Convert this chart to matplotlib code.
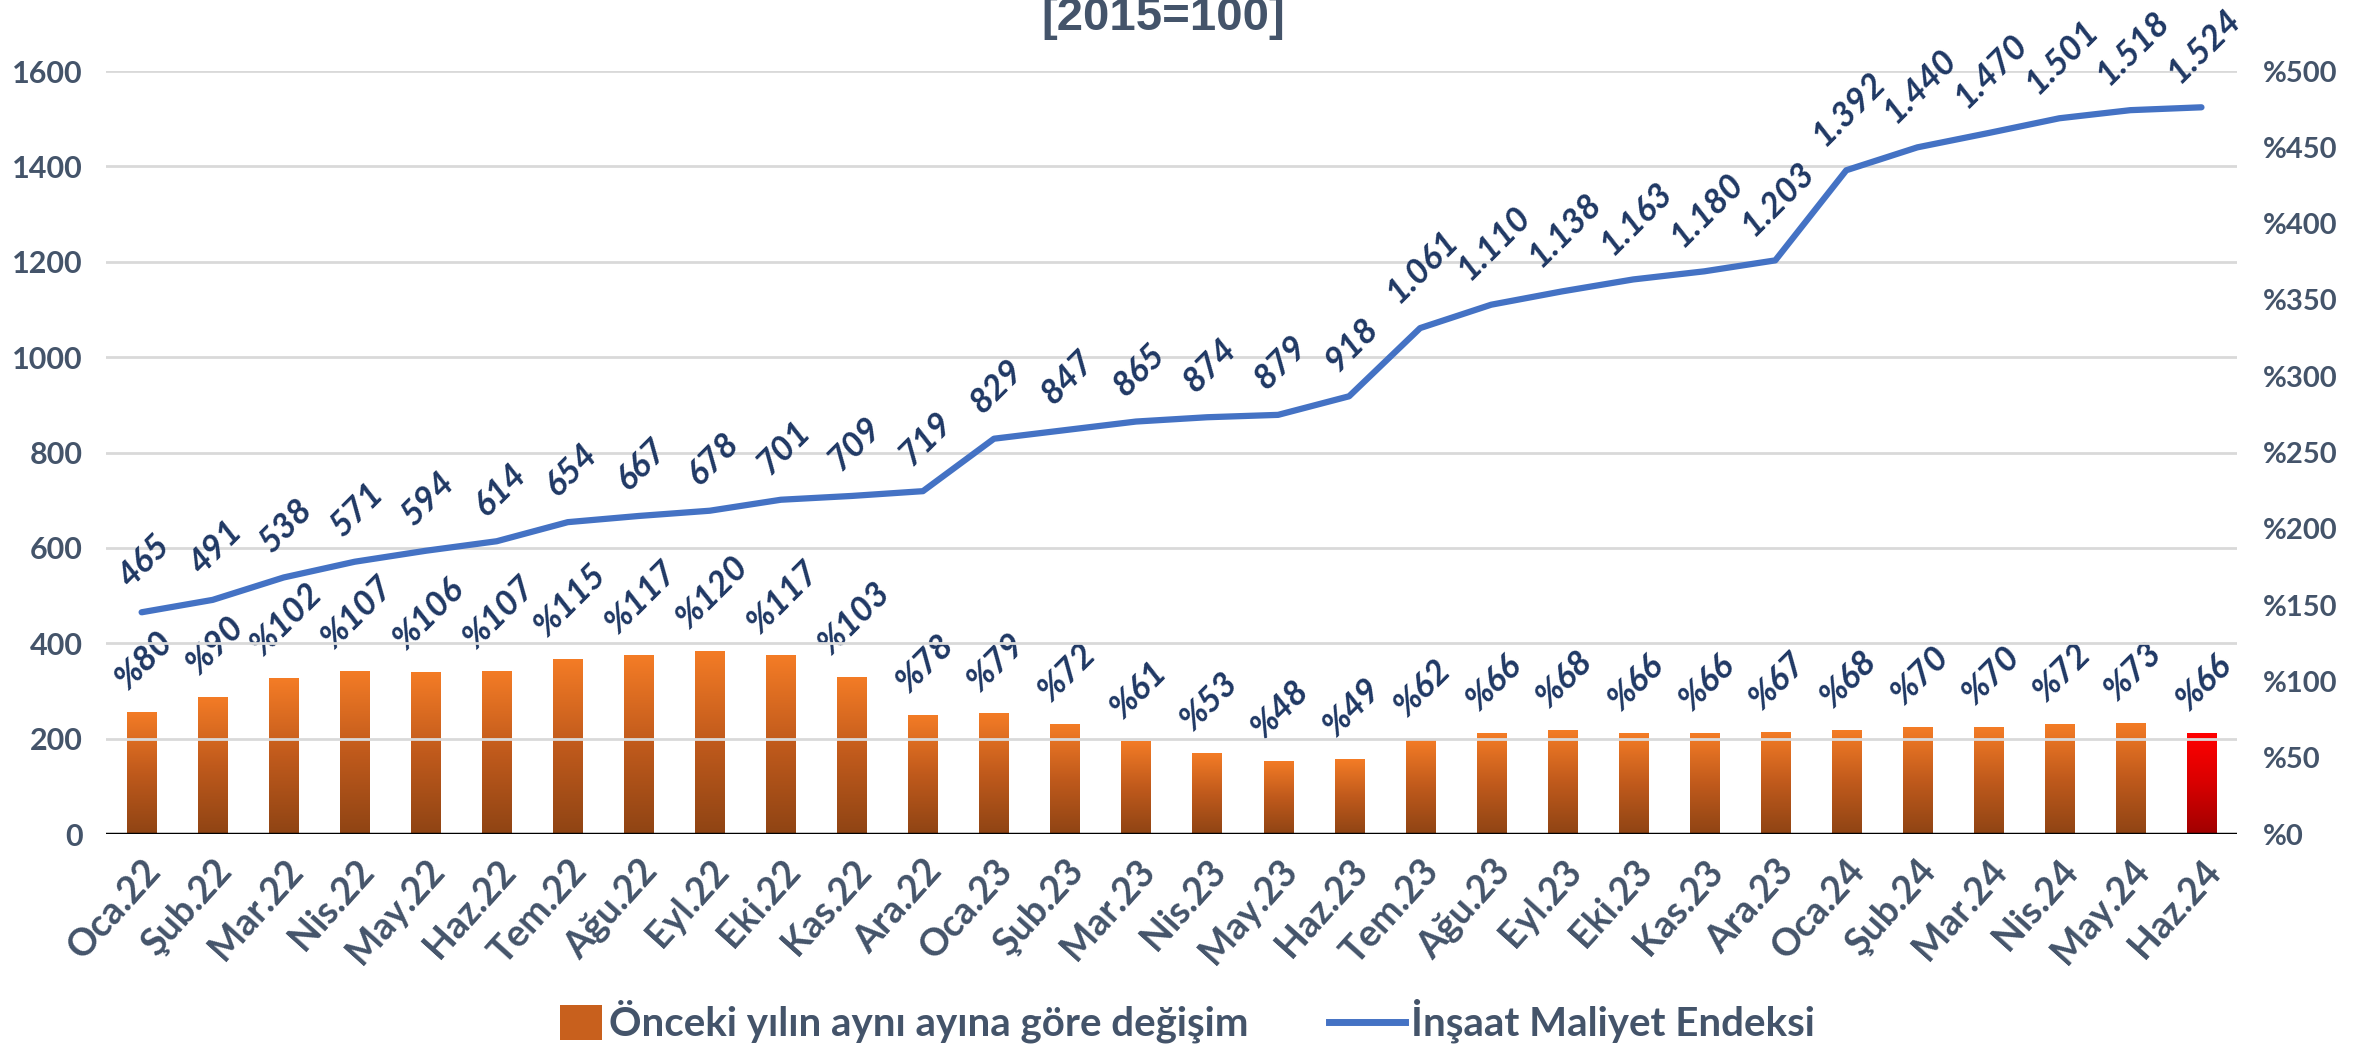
import numpy as np
import matplotlib
matplotlib.use("Agg")
import matplotlib.pyplot as plt
from matplotlib.patches import Patch, Rectangle
from matplotlib.lines import Line2D
from matplotlib.legend_handler import HandlerPatch
from matplotlib.colors import LinearSegmentedColormap

months = ["Oca.22", "Şub.22", "Mar.22", "Nis.22", "May.22", "Haz.22", "Tem.22", "Ağu.22",
          "Eyl.22", "Eki.22", "Kas.22", "Ara.22",
          "Oca.23", "Şub.23", "Mar.23", "Nis.23", "May.23", "Haz.23", "Tem.23", "Ağu.23",
          "Eyl.23", "Eki.23", "Kas.23", "Ara.23",
          "Oca.24", "Şub.24", "Mar.24", "Nis.24", "May.24", "Haz.24"]
index_values = [465, 491, 538, 571, 594, 614, 654, 667, 678, 701, 709, 719,
                829, 847, 865, 874, 879, 918, 1061, 1110, 1138, 1163, 1180, 1203,
                1392, 1440, 1470, 1501, 1518, 1524]
yoy_change = [80, 90, 102, 107, 106, 107, 115, 117, 120, 117, 103, 78,
              79, 72, 61, 53, 48, 49, 62, 66, 68, 66, 66, 67,
              68, 70, 70, 72, 73, 66]
left_ticks = [0, 200, 400, 600, 800, 1000, 1200, 1400, 1600]
right_ticks = [0, 50, 100, 150, 200, 250, 300, 350, 400, 450, 500]

FONT = "Lato"
TICK_C = "#44546A"
LABEL_C = "#1F3864"
LINE_C = "#4472C4"

plt.rcParams['font.family'] = [FONT, 'DejaVu Sans']

fig = plt.figure(figsize=(23.79, 10.45), dpi=100)
ax = fig.add_axes([0.0446, 0.2019, 0.8957, 0.7301])
ax2 = ax.twinx()
ax.set_zorder(ax2.get_zorder() + 1)
ax.patch.set_visible(False)

x = np.arange(len(months))

# Bars (right axis)
bars = ax2.bar(x, yoy_change, width=0.41, color="none", edgecolor="none")
orange = LinearSegmentedColormap.from_list("o", ["#8F4414", "#C05A1C", "#F47C26"])
red = LinearSegmentedColormap.from_list("r", ["#A00000", "#D80000", "#FF0000"])
grad = np.linspace(0, 1, 256).reshape(-1, 1)
for i, b in enumerate(bars):
    cmap = red if i == len(bars) - 1 else orange
    x0, w, h = b.get_x(), b.get_width(), b.get_height()
    im = ax2.imshow(grad, cmap=cmap, extent=[x0, x0 + w, 0, h], origin="lower",
                    aspect="auto", zorder=2)
    im.set_clip_path(b)

LBL_FS = 25
for xi, v in zip(x, yoy_change):
    ax2.annotate(f"%{v}", (xi, v), xytext=(2, 12), textcoords="offset points",
                 ha="center", va="bottom", rotation=45, fontsize=LBL_FS,
                 fontweight="bold", fontstyle="italic", color=LABEL_C, zorder=5)

# Line (left axis)
ax.plot(x, index_values, color=LINE_C, lw=4.5, solid_capstyle="round", zorder=3)
for xi, v in zip(x, index_values):
    s = f"{v:,}".replace(",", ".")
    ax.annotate(s, (xi, v), xytext=(2, 14), textcoords="offset points",
                ha="center", va="bottom", rotation=45, fontsize=LBL_FS,
                fontweight="bold", fontstyle="italic", color=LABEL_C, zorder=5)

ax.set_xlim(-0.5, len(months) - 0.5)
ax.set_ylim(0, 1600)
ax2.set_ylim(0, 500)
ax2.set_xlim(-0.5, len(months) - 0.5)

ax.set_yticks(left_ticks)
ax.set_yticklabels([str(t) for t in left_ticks])
ax2.set_yticks(right_ticks)
ax2.set_yticklabels([f"%{t}" for t in right_ticks])

ax.grid(axis="y", color="#D9D9D9", lw=2)
ax.set_axisbelow(True)
ax2.grid(False)

for a in (ax, ax2):
    for s in a.spines.values():
        s.set_visible(False)
ax.axhline(0, color="black", lw=2.5, zorder=4)

ax.tick_params(axis="y", length=0, pad=17, labelsize=22, labelcolor=TICK_C)
ax2.tick_params(axis="y", length=0, pad=19, labelsize=21, labelcolor=TICK_C)
for lab in ax.get_yticklabels() + ax2.get_yticklabels():
    lab.set_fontweight("bold")

ax.set_xticks(x)
ax.set_xticklabels(months, rotation=48, ha="right", rotation_mode="anchor",
                   fontsize=27, fontweight="bold", color=TICK_C)
ax.tick_params(axis="x", length=0, pad=14)

fig.text(0.4889, 1 - 30 / 1045, "[2015=100]", ha="center", va="baseline",
         fontsize=34, fontweight="bold", color=TICK_C, family="Liberation Sans")


def square_patch(legend, orig_handle, xdescent, ydescent, width, height, fontsize):
    side = height * 1.25
    return Rectangle((width - side * 1.2 - xdescent, -ydescent - height * 0.15),
                     side * 1.2, side, facecolor="#C8601D", edgecolor="none")


handles = [Patch(facecolor="#C8601D", edgecolor="none"),
           Line2D([0], [0], color=LINE_C, lw=5)]
fig.legend(handles, ["Önceki yılın aynı ayına göre değişim", "İnşaat Maliyet Endeksi"],
           loc="center", bbox_to_anchor=(0.492, 0.023), ncol=2, frameon=False,
           prop={"weight": "bold", "size": 29}, labelcolor=TICK_C,
           handlelength=1.9, handletextpad=0.15, columnspacing=2.0,
           handler_map={Patch: HandlerPatch(patch_func=square_patch)})

fig.savefig("out.png", dpi=100)
